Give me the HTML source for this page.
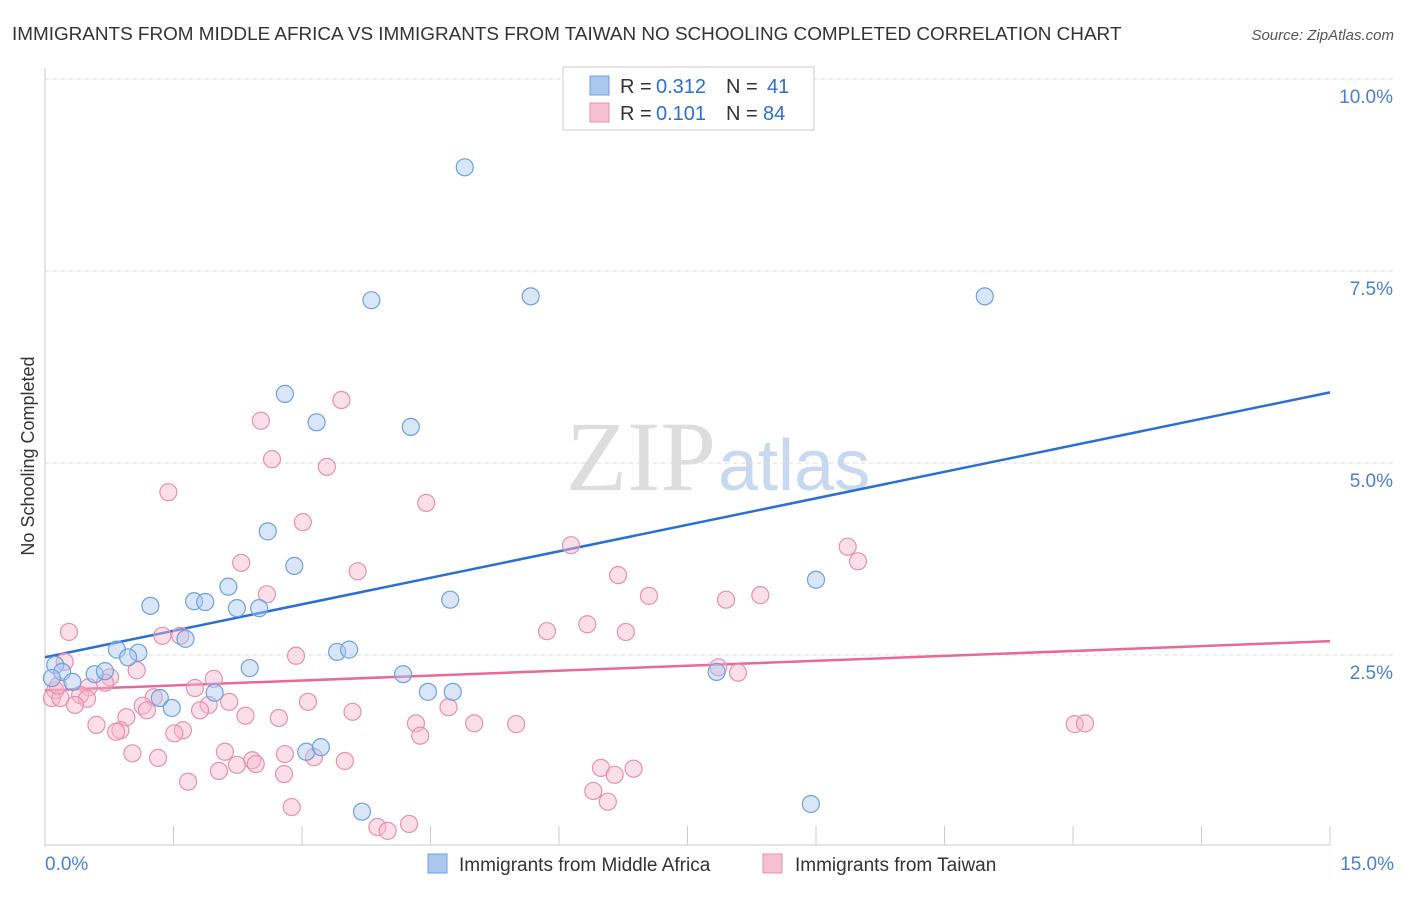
<!DOCTYPE html>
<html><head><meta charset="utf-8"><style>
body{margin:0;background:#fff;font-family:"Liberation Sans",sans-serif}
svg text{font-family:"Liberation Sans",sans-serif}
svg text.serif{font-family:"Liberation Serif",serif}
</style></head><body>
<svg id="chart" width="1406" height="892">
<text x="12" y="40" font-size="18.9" fill="#333">IMMIGRANTS FROM MIDDLE AFRICA VS IMMIGRANTS FROM TAIWAN NO SCHOOLING COMPLETED CORRELATION CHART</text>
<text x="1394" y="40" font-size="15" fill="#555" font-style="italic" text-anchor="end">Source: ZipAtlas.com</text>
<text class="serif" x="716" y="490" font-size="100" fill="#ddd" text-anchor="end">ZIP</text>
<text x="718" y="490" font-size="72" fill="#c8d8f0">atlas</text>
<text transform="translate(34,456) rotate(-90)" font-size="18" fill="#333" text-anchor="middle">No Schooling Completed</text>
<g id="grid"></g><g id="ticks"></g><g id="lines"></g><g id="pts"></g>
<g>
<rect x="563" y="67" width="251" height="63" fill="#fff" stroke="#ccc"/>
<rect x="590" y="76" width="19" height="19" fill="#a8c8f0" stroke="#6fa0e0"/>
<text x="620" y="93" font-size="20" fill="#333">R =</text>
<text x="656" y="93" font-size="20" fill="#2a6fd6">0.312</text>
<text x="726" y="93" font-size="20" fill="#333">N =</text>
<text x="767" y="93" font-size="20" fill="#2a6fd6">41</text>
<rect x="590" y="103" width="19" height="19" fill="#f7c0d2" stroke="#e890b0"/>
<text x="620" y="120" font-size="20" fill="#333">R =</text>
<text x="656" y="120" font-size="20" fill="#2a6fd6">0.101</text>
<text x="726" y="120" font-size="20" fill="#333">N =</text>
<text x="763" y="120" font-size="20" fill="#2a6fd6">84</text>
</g>
<g>
<rect x="428" y="854" width="19" height="19" fill="#a8c8f0" stroke="#6fa0e0"/>
<text x="459" y="871" font-size="19" fill="#333">Immigrants from Middle Africa</text>
<rect x="763" y="854" width="19" height="19" fill="#f7c0d2" stroke="#e890b0"/>
<text x="795" y="871" font-size="19" fill="#333">Immigrants from Taiwan</text>
</g>
</svg>
<script>
const yTicks=[2.5,5.0,7.5,10.0];
const yTickLabels=["2.5%","5.0%","7.5%","10.0%"];
const xTickLabels=["0.0%","15.0%"];
const blueX=[4.90,3.81,5.67,10.97,2.80,3.17,4.27,2.60,2.91,2.14,1.23,1.74,1.87,2.24,2.50,4.73,9.00,1.64,0.84,1.09,0.97,3.41,3.55,2.39,4.18,7.84,0.12,0.20,0.32,0.58,0.70,1.34,1.48,1.98,4.47,4.76,3.05,3.22,3.70,8.94,0.08];
const blueY=[8.85,7.12,7.17,7.17,5.90,5.53,5.47,4.11,3.66,3.39,3.14,3.20,3.19,3.11,3.11,3.22,3.48,2.71,2.57,2.53,2.47,2.54,2.57,2.33,2.25,2.28,2.37,2.28,2.15,2.25,2.29,1.94,1.81,2.01,2.02,2.02,1.24,1.30,0.46,0.56,2.20];
const pinkX=[3.46,2.52,2.65,3.29,1.44,4.45,3.01,6.14,9.37,9.49,2.29,3.65,6.69,2.59,7.05,8.35,7.95,6.33,5.86,6.78,0.28,1.37,1.58,2.93,7.86,8.09,0.23,1.07,0.76,1.97,0.70,0.51,1.75,0.12,0.41,0.08,0.18,1.27,3.07,2.15,0.49,0.35,1.14,1.91,1.81,1.19,4.71,3.59,0.95,2.34,2.73,4.33,5.01,5.50,0.60,12.02,12.14,1.61,0.88,0.83,1.51,4.38,2.10,1.02,1.32,2.80,2.42,3.14,2.24,3.50,2.46,2.03,6.49,6.87,2.79,6.65,1.67,6.40,2.88,6.57,4.25,3.88,4.00,0.15];
const pinkY=[5.82,5.55,5.05,4.95,4.62,4.48,4.23,3.93,3.91,3.72,3.70,3.59,3.54,3.29,3.27,3.28,3.22,2.90,2.81,2.80,2.80,2.75,2.75,2.49,2.34,2.27,2.41,2.30,2.21,2.19,2.14,2.08,2.07,2.04,1.98,1.94,1.94,1.95,1.89,1.89,1.93,1.85,1.84,1.85,1.78,1.78,1.82,1.76,1.69,1.71,1.68,1.61,1.61,1.60,1.59,1.60,1.61,1.52,1.52,1.50,1.48,1.45,1.24,1.22,1.16,1.21,1.13,1.17,1.07,1.12,1.08,0.99,1.03,1.02,0.95,0.94,0.85,0.73,0.52,0.59,0.30,0.26,0.21,2.10];
const blueTrend=[2.47,5.92];
const pinkTrend=[2.04,2.68];
const X=v=>45+v*(1285/15), Y=v=>847-v*76.8;
const NS="http://www.w3.org/2000/svg";
function mk(tag,parent,attrs){const e=document.createElementNS(NS,tag);for(const k in attrs)e.setAttribute(k,attrs[k]);document.getElementById(parent).appendChild(e);return e;}
yTicks.forEach((t,i)=>{
 const g=mk('line','grid',{x1:45,x2:1394,y1:Y(t),y2:Y(t),stroke:'#ddd','stroke-dasharray':'4,4'});
 
 
 const l=mk('text','ticks',{x:1393,y:Y(t)+24,'font-size':19,fill:'#4a7fd6','text-anchor':'end'});l.textContent=yTickLabels[i];
 
 
});
const ax=mk('line','ticks',{x1:45,x2:45,y1:68,y2:847,stroke:'#ccc'});


const bx=mk('line','ticks',{x1:45,x2:1330,y1:845,y2:845,stroke:'#ccc'});


for(let i=0;i<=10;i++){const t=mk('line','ticks',{x1:X(i*1.5),x2:X(i*1.5),y1:826,y2:845,stroke:'#ccc'});
 
 }
[[0,'start',45],[15,'end',1394]].forEach((d,i)=>{const l=mk('text','ticks',{x:d[2],y:870,'font-size':19,fill:'#4a7fd6','text-anchor':d[1]});l.textContent=xTickLabels[i];
 
 });
function pts(xs,ys,fill,stroke,name){xs.forEach((x,i)=>{const c=mk('circle','pts',{cx:X(x),cy:Y(ys[i]),r:8.5,fill:fill,'fill-opacity':0.45,stroke:stroke,'stroke-width':1.2});
 
 });}
pts(pinkX,pinkY,'#f7b8cc','#e890b0','taiwan-point');
pts(blueX,blueY,'#a8c8f0','#6fa0e0','middle-africa-point');
const b=mk('line','lines',{x1:X(0),y1:Y(blueTrend[0]),x2:X(15),y2:Y(blueTrend[1]),stroke:'#2a6fd6','stroke-width':2.5});


const p=mk('line','lines',{x1:X(0),y1:Y(pinkTrend[0]),x2:X(15),y2:Y(pinkTrend[1]),stroke:'#e8689a','stroke-width':2.5});


</script>
</body></html>
